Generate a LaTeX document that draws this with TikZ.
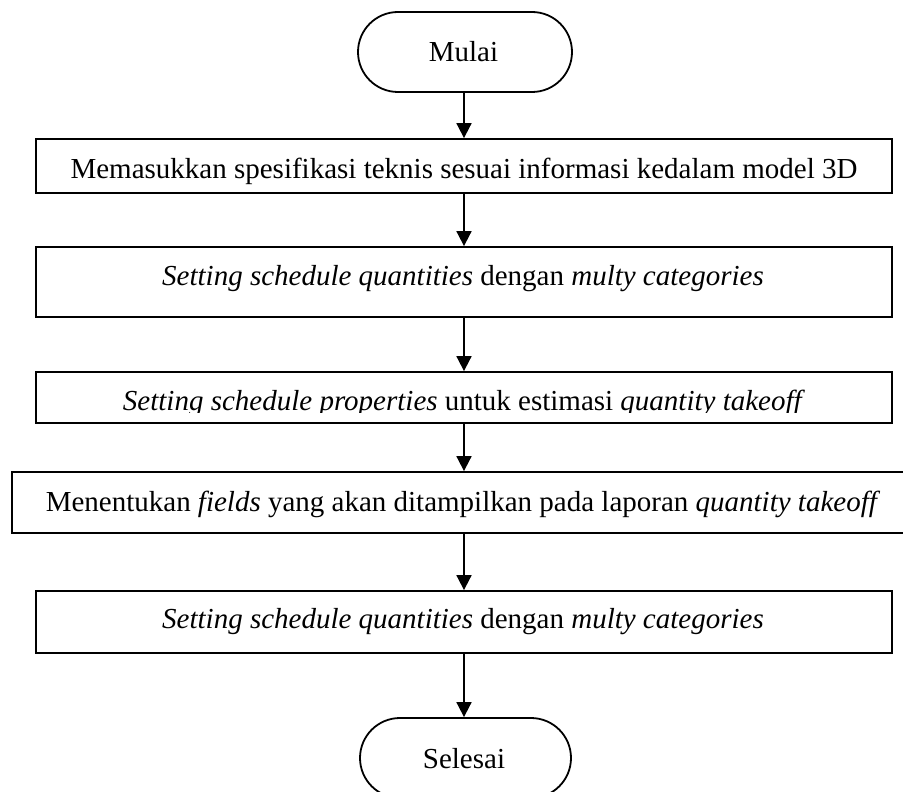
\documentclass[tikz,border=0pt]{standalone}
\usepackage{fontspec}
\setmainfont{Liberation Serif}
\usetikzlibrary{arrows.meta}
\begin{document}
\begin{tikzpicture}[x=1pt,y=-1pt,
  every node/.style={font=\fontsize{29}{34}\selectfont},
  stepbox/.style={draw, line width=1.8pt, rectangle, inner sep=0pt},
  terminal/.style={draw, line width=1.8pt, rectangle, rounded corners=40pt,
    inner sep=0pt, minimum height=80pt},
  flow/.style={line width=1.8pt, -{Triangle[width=15pt,length=15pt]}},
  txt/.style={anchor=base, inner sep=0pt}]
\useasboundingbox[fill=white] (0,0) rectangle (903,792);

% start / end terminals
\node[terminal, minimum width=214pt] (mulai) at (465,52) {};
\node[txt] (tmulai) at (463.5,62) {Mulai};
\node[terminal, minimum width=211pt] (selesai) at (465.5,758) {};
\node[txt] (tselesai) at (464,768) {Selesai};

% process steps
\node[stepbox, minimum width=856pt, minimum height=54pt] (b1) at (464,166) {};
\node[txt] (t1) at (464,178) {Memasukkan spesifikasi teknis sesuai informasi kedalam model 3D};

\node[stepbox, minimum width=856pt, minimum height=70pt] (b2) at (464,282) {};
\node[txt] (t2) at (463,285) {\textit{Setting schedule quantities} dengan \textit{multy categories}};

\node[stepbox, minimum width=856pt, minimum height=51pt] (b3) at (464,397.5) {};
\begin{scope}
  \clip (36,372) rectangle (892,412);
  \node[txt] (t3) at (464,410) {\textit{Setting schedule properties} untuk estimasi \textit{quantity takeoff}};
\end{scope}

\node[stepbox, minimum width=903pt, minimum height=61pt] (b4) at (463.5,502.5) {};
\node[txt] (t4) at (463,511) {Menentukan \textit{fields} yang akan ditampilkan pada laporan \textit{quantity takeoff}};

\node[stepbox, minimum width=856pt, minimum height=62pt] (b5) at (464,622) {};
\node[txt] (t5) at (463,628) {\textit{Setting schedule quantities} dengan \textit{multy categories}};

% connectors
\coordinate (ax) at (464,0);
\draw[flow] (ax |- mulai.south) -- (ax |- b1.north);
\draw[flow] (ax |- b1.south) -- (ax |- b2.north);
\draw[flow] (ax |- b2.south) -- (ax |- b3.north);
\draw[flow] (ax |- b3.south) -- (ax |- b4.north);
\draw[flow] (ax |- b4.south) -- (ax |- b5.north);
\draw[flow] (ax |- b5.south) -- (ax |- selesai.north);
\end{tikzpicture}
\end{document}
